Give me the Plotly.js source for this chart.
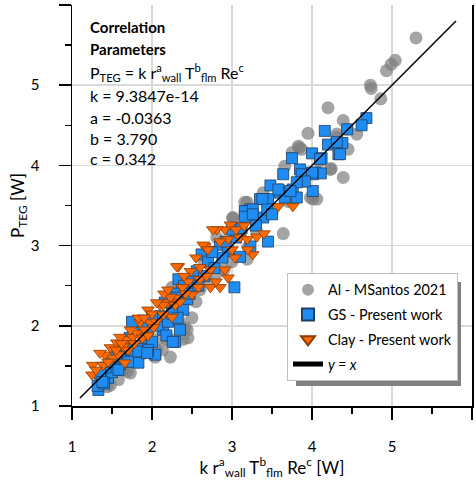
<!DOCTYPE html>
<html><head><meta charset="utf-8">
<script src="https://cdn.plot.ly/plotly-3.0.1.min.js"></script>
<style>html,body{margin:0;padding:0;background:#fff}#chart{width:476px;height:486px}</style>
</head><body><div id="chart"></div>
<script>
// Al - MSantos 2021
const alX = [5.30,5.04,4.99,4.93,4.73,4.74,4.86,4.20,4.39,3.95,4.31,4.56,4.45,4.24,4.39,3.87,3.84,3.75,4.01,3.64,3.19,3.01,3.83,3.66,4.23,4.44,4.31,3.39,4.06,3.98,3.16,3.01,3.19,2.25,3.20,2.50,2.41,2.45,2.23,2.10,2.06,1.89,1.69,1.58,1.44,2.29,2.26,2.19,2.13,2.23,2.04,1.73,1.64,1.48,2.39,2.44,2.81,2.70,2.80,2.90,3.00,2.60,2.55,3.50,3.60,3.30,3.45,1.95,1.80,2.35,3.70,4.10,1.55,2.65,3.10];
const alY = [5.59,5.31,5.26,5.18,5.00,4.96,4.83,4.72,4.56,4.40,4.39,4.39,4.20,3.96,3.85,4.20,4.22,4.16,3.58,3.15,3.54,3.34,4.24,3.99,3.95,4.45,4.35,3.66,3.58,3.60,3.54,3.35,2.83,2.48,2.98,2.10,1.98,1.85,1.83,1.85,1.70,1.66,1.43,1.33,1.24,2.20,2.33,1.83,1.70,1.61,1.61,1.41,1.45,1.26,1.83,1.95,3.10,2.55,2.65,2.70,2.80,2.45,2.30,3.40,3.70,3.20,3.50,1.80,1.55,2.05,3.55,4.05,1.45,2.80,3.15];
// GS - Present work
const gsX = [4.68,4.62,4.16,4.44,4.20,4.38,4.33,4.00,4.12,4.04,4.11,4.01,3.87,3.75,4.10,3.85,3.64,4.01,3.89,3.48,3.76,3.60,3.35,3.45,3.66,3.81,3.23,3.19,3.39,3.45,3.03,3.87,4.00,3.91,3.81,3.58,3.38,3.16,3.26,3.44,3.50,3.73,4.35,4.31,2.85,2.95,2.62,2.56,2.33,2.37,2.44,3.10,3.23,3.16,3.26,2.70,2.78,2.88,3.05,3.00,2.92,2.50,2.65,2.75,3.12,3.30,2.40,2.28,2.20,2.47,2.58,2.29,2.04,1.83,2.14,2.39,2.16,1.79,1.33,1.39,1.54,1.32,1.45,1.50,1.42,1.60,1.65,1.70,1.75,1.85,1.90,1.95,2.00,2.08,1.88,2.10,2.20,2.25,2.32,2.00,1.72,1.60,1.48,1.55,2.35,2.18,1.95,1.35,1.40,1.38,1.58,1.83,1.94,2.26,1.75,2.31];
const gsY = [4.59,4.50,4.43,4.45,4.26,4.28,4.14,4.15,4.09,3.91,3.90,3.68,3.80,4.09,4.08,3.95,3.89,3.89,3.83,3.75,3.70,3.66,3.58,3.58,3.60,3.60,3.45,3.39,3.35,3.05,2.48,3.89,3.91,3.80,3.79,3.70,3.58,3.43,3.45,3.45,3.39,3.68,4.14,4.29,3.01,2.93,2.89,2.68,2.58,2.45,2.33,2.86,2.99,3.36,3.39,2.80,2.72,2.85,3.10,3.20,3.05,2.55,2.62,2.92,3.22,3.25,2.50,2.40,2.30,2.40,2.50,1.80,1.64,1.54,1.95,2.20,2.29,2.04,1.20,1.33,1.45,1.25,1.35,1.42,1.48,1.52,1.60,1.55,1.70,1.75,1.85,1.95,1.80,2.00,2.00,2.12,2.05,2.15,2.10,2.10,1.85,1.68,1.55,1.62,1.95,1.88,1.70,1.40,1.28,1.30,1.45,1.68,1.66,1.80,2.05,2.35];
// Clay - Present work
const clayX = [1.25,1.26,1.39,1.51,1.41,1.66,1.58,1.48,1.56,1.69,1.60,1.76,1.81,1.73,1.85,1.91,1.98,1.83,2.10,2.19,2.29,2.25,2.14,1.64,1.35,2.66,2.91,2.98,2.81,2.95,3.10,3.19,3.26,3.31,2.33,2.48,2.60,2.73,2.91,3.04,2.60,2.58,2.73,2.85,2.45,2.50,2.23,2.14,2.06,2.29,3.76,3.58,2.76,2.64,2.31,1.95,2.00,2.05,1.90,1.70,1.78,1.88,2.15,2.20,2.38,2.40,2.55,2.70,2.85,3.05,3.15,2.95,2.80,2.68,1.45,1.30,1.55,1.62,1.95,2.02,2.35,2.42,3.00,3.20,3.40];
const clayY = [1.39,1.51,1.51,1.60,1.64,1.54,1.64,1.73,1.79,1.83,1.86,1.86,1.91,1.95,2.04,1.95,2.04,2.10,2.26,2.29,2.35,2.11,2.14,1.74,1.66,2.99,3.20,3.26,3.20,3.08,3.10,3.08,2.89,3.11,2.74,2.68,2.73,2.70,2.70,2.85,2.58,2.48,2.48,2.48,2.55,2.39,2.36,2.26,2.29,2.26,3.49,3.49,3.20,3.01,2.74,2.20,2.15,2.05,2.10,1.70,1.78,1.85,2.40,2.45,2.48,2.62,2.85,2.95,3.05,3.20,3.25,2.60,2.55,2.62,1.55,1.45,1.70,1.78,1.88,1.98,2.30,2.40,2.95,2.95,3.15];
// y = x reference line
const refX = [1.1, 5.8];
const refY = [1.1, 5.8];
const tickVals = [1,2,3,4,5,6];

const FONT = 'Lato, "Open Sans", sans-serif';
const traces = [
  {type:'scatter', mode:'markers', x:alX, y:alY, name:'Al - MSantos 2021', legendgroup:'a',
   marker:{symbol:'circle', size:13, color:'rgba(125,125,125,0.7)', line:{width:0}}},
  {type:'scatter', mode:'markers', x:gsX, y:gsY, name:'GS - Present work', legendgroup:'b',
   marker:{symbol:'square', size:11, color:'#1E8CF0', line:{width:0.8, color:'#1f3f66'}}},
  {type:'scatter', mode:'markers', x:clayX, y:clayY, name:'Clay - Present work', legendgroup:'c',
   marker:{symbol:'triangle-down', size:11, color:'#FF6A00', line:{width:0.8, color:'#8a3a00'}}},
  {type:'scatter', mode:'lines', x:refX, y:refY, name:'<i>y = x</i>', legendgroup:'d',
   line:{color:'#000', width:1.5}}
];

function py(p){ return (406-p)/401; }
const ann = [];
const lines = [
  ['<b>Correlation</b>', 27, 15],
  ['<b>Parameters</b>', 49, 15],
  ['P<sub>TEG</sub> = k r<sup>a</sup><sub>wall</sub> T<sup>b</sup><sub>flm</sub> Re<sup>c</sup>', 72, 16],
  ['k = 9.3847e-14', 95, 16],
  ['a = -0.0363', 117, 16],
  ['b = 3.790', 138, 16],
  ['c = 0.342', 159, 16]
];
lines.forEach(l=>ann.push({xref:'paper', yref:'paper', x:(88-72)/400, y:py(l[1]), xanchor:'left', yanchor:'middle',
  text:l[0], showarrow:false, font:{family:FONT, size:l[2], color:'#000'}}));

const layout = {
  width:476, height:486,
  margin:{l:72, r:4, t:5, b:80},
  paper_bgcolor:'#fff', plot_bgcolor:'#fff',
  font:{family:FONT, size:15, color:'#000'},
  showlegend:true,
  legend:{x:(287-72)/400, y:py(273), xanchor:'left', yanchor:'top', bgcolor:'#fff', bordercolor:'#bfbfbf', borderwidth:1,
    font:{family:FONT, size:14.4, color:'#000'}, itemsizing:'constant', traceorder:'grouped', tracegroupgap:3, itemwidth:30},
  xaxis:{range:[1,6], tickvals:tickVals, ticktext:tickVals.map(String), showgrid:true, gridcolor:'#d9d9d9', gridwidth:1.5,
    zeroline:false, showline:true, linecolor:'#000', linewidth:1.5, mirror:false,
    ticks:'outside', ticklen:12, tickwidth:1.5, tickcolor:'#000', ticklabelstandoff:14,
    minor:{dtick:0.5, tick0:1, ticks:'outside', ticklen:6, tickwidth:1.5, tickcolor:'#000', showgrid:false},
    tickfont:{family:FONT, size:15},
    title:{text:'k r<sup>a</sup><sub>wall</sub> T<sup>b</sup><sub>flm</sub> Re<sup>c</sup> [W]', font:{family:FONT, size:17}, standoff:6}},
  yaxis:{range:[1,6], tickvals:tickVals, ticktext:tickVals.map(String), showgrid:true, gridcolor:'#d9d9d9', gridwidth:1.5,
    zeroline:false, showline:true, linecolor:'#000', linewidth:1.5, mirror:true,
    ticks:'outside', ticklen:12, tickwidth:1.5, tickcolor:'#000', ticklabelstandoff:16, ticksuffix:'\u2007',
    minor:{dtick:0.5, tick0:1, ticks:'outside', ticklen:6, tickwidth:1.5, tickcolor:'#000', showgrid:false},
    tickfont:{family:FONT, size:15},
    title:{text:'P<sub>TEG</sub> [W]', font:{family:FONT, size:17}, standoff:2}},
  shapes:[{type:'rect', xref:'paper', yref:'paper', x0:(296-72)/400, x1:(461-72)/400, y0:py(386), y1:py(282),
    fillcolor:'#808080', line:{width:0}, layer:'above'}],
  annotations:ann
};
Plotly.newPlot('chart', traces, layout, {displayModeBar:false, staticPlot:true});
</script></body></html>
